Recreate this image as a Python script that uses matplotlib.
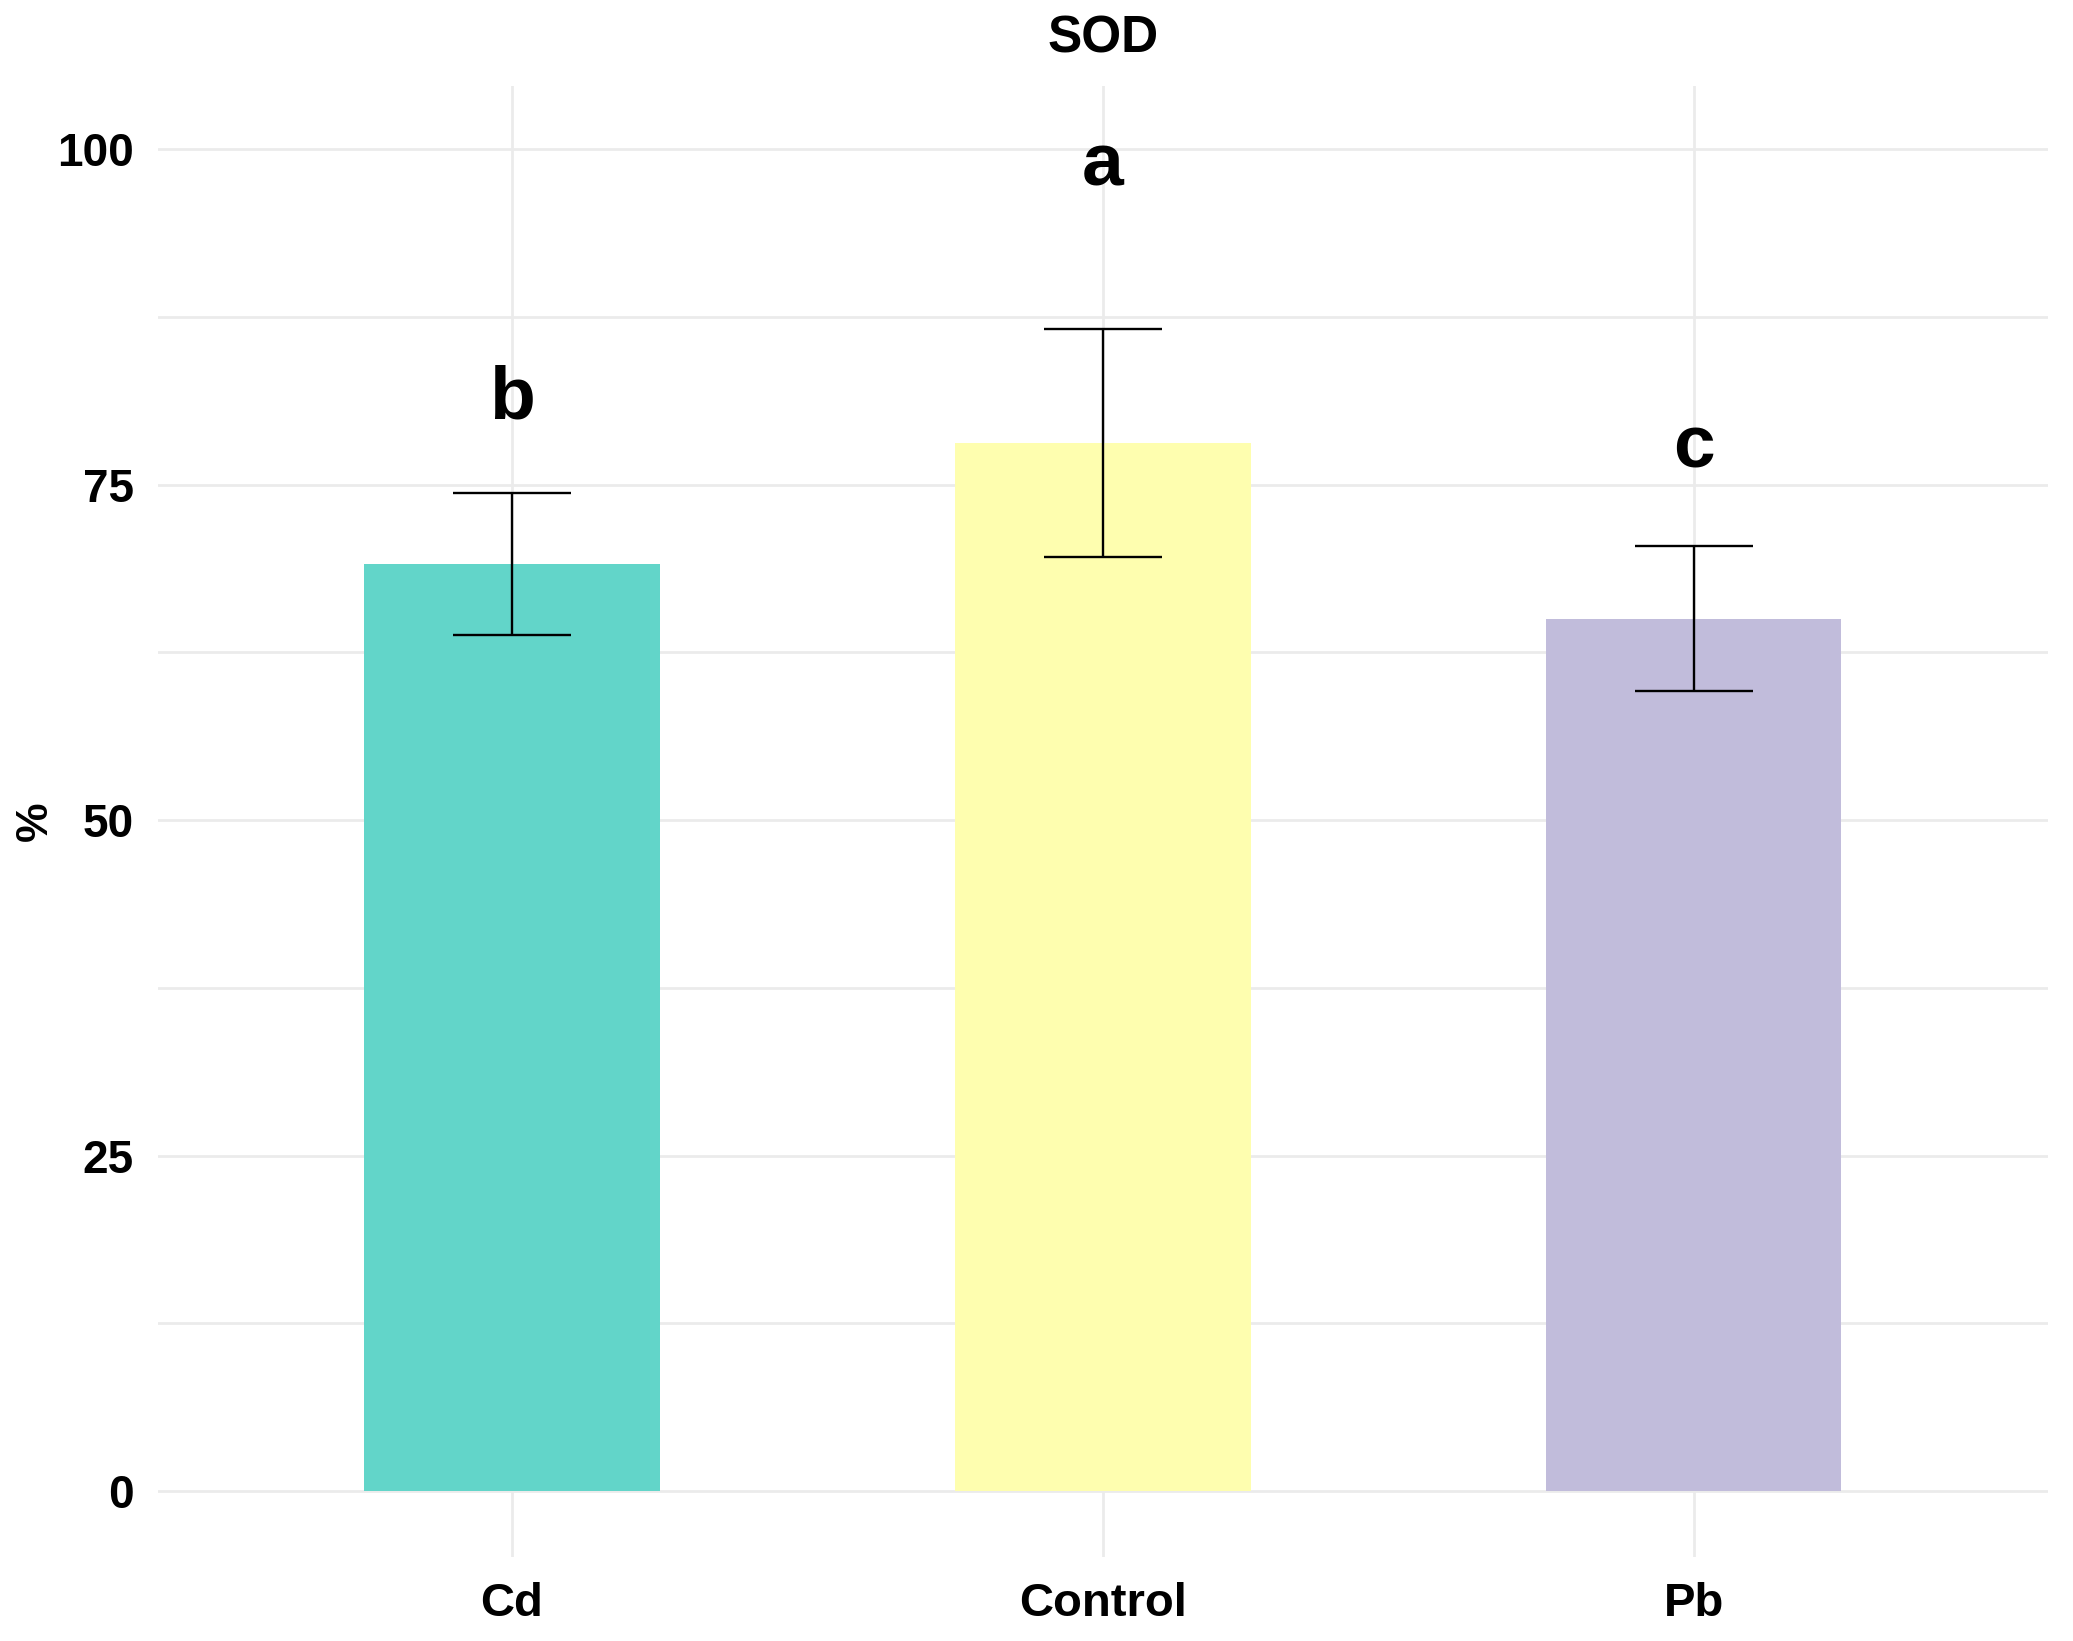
import matplotlib
matplotlib.use("Agg")
import matplotlib.pyplot as plt
from matplotlib.ticker import MultipleLocator, FixedLocator

plt.rcParams['font.family'] = ['Liberation Sans', 'DejaVu Sans']

categories = ["Cd", "Control", "Pb"]
means = [69.1, 78.1, 65.0]
sds = [5.3, 8.5, 5.4]
letters = ["b", "a", "c"]
letter_y = [79.9, 97.3, 76.3]
colors = ["#62D5C9", "#FEFEAF", "#C1BCDB"]
yticks = [0, 25, 50, 75, 100]

fig = plt.figure(figsize=(10.365, 8.205), dpi=200)
ax = fig.add_axes([0.076, 0.0512, 0.912, 0.8964])

x = list(range(1, len(categories) + 1))
ax.bar(x, means, width=0.5, color=colors, zorder=2)
ax.errorbar(x, means, yerr=sds, fmt='none', ecolor='black', elinewidth=0.85,
            capsize=0, zorder=3)
for xi, m, s in zip(x, means, sds):
    ax.hlines([m - s, m + s], xi - 0.1, xi + 0.1, color='black', lw=0.85, zorder=3)

for xi, lab, ly in zip(x, letters, letter_y):
    ax.text(xi, ly, lab, ha='center', va='baseline', fontsize=27,
            fontweight='bold', zorder=4)

ax.set_xlim(0.4, 3.6)
ax.set_ylim(-4.9, 104.7)
ax.set_xticks(x)
ax.set_xticklabels(categories, fontsize=17, fontweight='bold')
ax.yaxis.set_major_locator(FixedLocator(yticks))
ax.yaxis.set_minor_locator(MultipleLocator(12.5))
ax.set_yticklabels([str(t) for t in yticks], fontsize=16.5, fontweight='bold')
ax.tick_params(axis='both', length=0, which='both')
ax.tick_params(axis='y', pad=8.5)
ax.tick_params(axis='x', pad=9)

ax.grid(True, which='major', axis='both', color='#EBEBEB', lw=1.0, zorder=0)
ax.grid(True, which='minor', axis='y', color='#EBEBEB', lw=1.0, zorder=0)
ax.set_axisbelow(True)
for sp in ax.spines.values():
    sp.set_visible(False)

pos = ax.get_position()
fig.text(35 / 2073, pos.y0 + pos.height / 2, '%', rotation=90, ha='center',
         va='center', fontsize=16, fontweight='bold')
fig.text(pos.x0 + pos.width / 2, 1 - 39 / 1641, 'SOD',
         ha='center', va='center', fontsize=18.5, fontweight='bold')

fig.savefig('out.png', dpi=200, facecolor='white')
